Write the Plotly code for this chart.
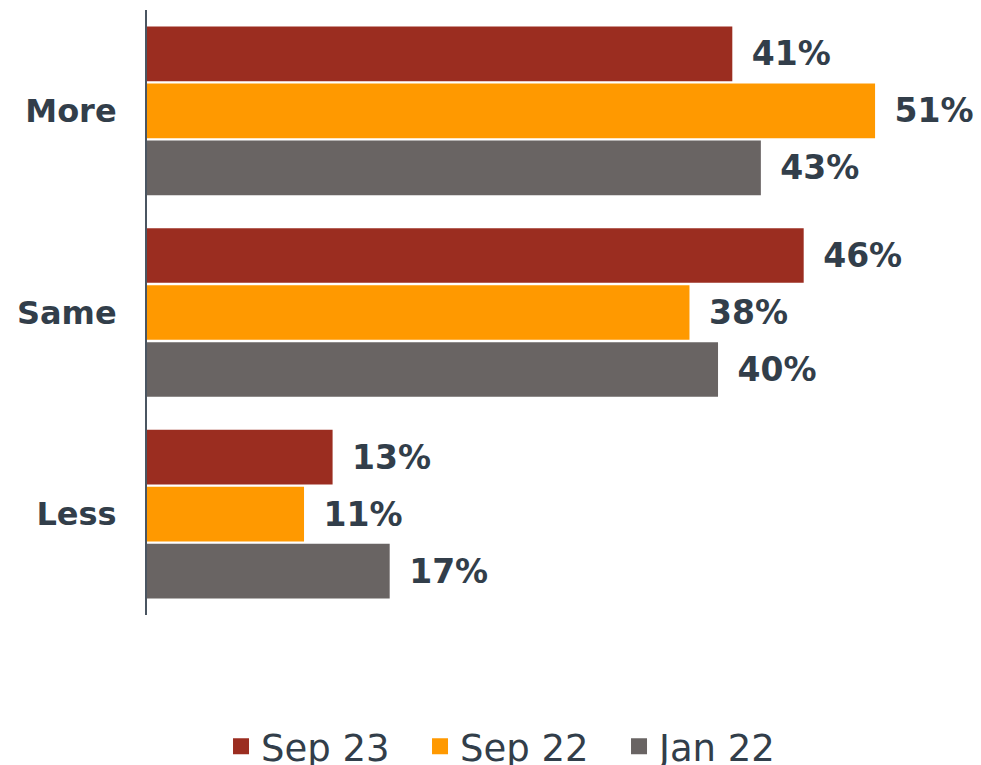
import plotly.graph_objects as go

# Survey answers, one series per wave
categories = ["More", "Same", "Less"]
series_names = ["Sep 23", "Sep 22", "Jan 22"]
sep23 = [41, 46, 13]
sep22 = [51, 38, 11]
jan22 = [43, 40, 17]
series_values = [sep23, sep22, jan22]
colors = ["#9b2d20", "#ff9900", "#696463"]

TEXT = "#323e4a"
FONT = "DejaVu Sans"

fig = go.Figure()

for name, vals, col in zip(series_names, series_values, colors):
    fig.add_trace(go.Bar(
        name=name,
        y=categories,
        x=vals,
        orientation="h",
        marker=dict(color=col, line=dict(width=0)),
        text=vals,
        texttemplate="\u2002%{x}%",
        textposition="outside",
        constraintext="none",
        cliponaxis=False,
        outsidetextfont=dict(family=FONT, size=33, color=TEXT, weight="bold"),
        showlegend=False,
    ))

# Legend entries with larger square swatches
for name, col in zip(series_names, colors):
    fig.add_trace(go.Scatter(
        name=name,
        x=[None], y=[None],
        mode="markers",
        marker=dict(symbol="square", size=16, color=col),
        showlegend=True,
    ))

fig.update_layout(
    width=981,
    height=765,
    margin=dict(l=147, r=6, t=10, b=150),
    paper_bgcolor="white",
    plot_bgcolor="white",
    barmode="group",
    bargap=0.152,
    bargroupgap=0.04,
    font=dict(family=FONT, color=TEXT),
    xaxis=dict(
        range=[0, 58],
        showgrid=False,
        zeroline=False,
        showticklabels=False,
        showline=False,
    ),
    yaxis=dict(
        autorange="reversed",
        showgrid=False,
        zeroline=False,
        showline=True,
        linecolor="#4a5561",
        linewidth=2,
        ticks="",
        ticklabelstandoff=22,
        tickfont=dict(family=FONT, size=32, color=TEXT, weight="bold"),
    ),
    legend=dict(
        orientation="h",
        xref="container",
        yref="container",
        x=0.2253,
        xanchor="left",
        y=0.024,
        yanchor="middle",
        font=dict(family=FONT, size=37, color=TEXT),
        entrywidth=154,
        entrywidthmode="pixels",
        itemclick=False,
        bgcolor="rgba(0,0,0,0)",
    ),
)

fig.write_html("out.html")
